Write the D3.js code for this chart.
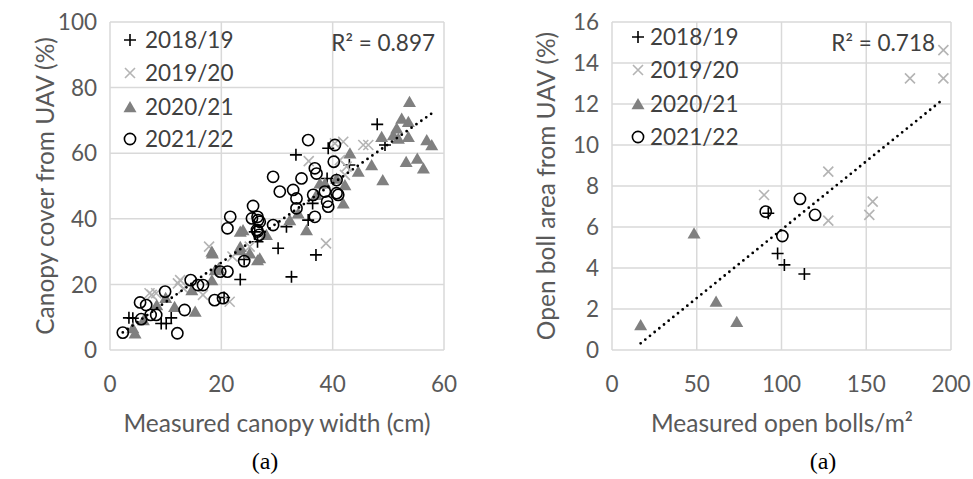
<!DOCTYPE html>
<html><head><meta charset="utf-8">
<script src="https://cdn.jsdelivr.net/npm/d3@7"></script>
<style>body{margin:0;background:#fff}svg{display:block}text{font-family:Lato,"Open Sans",sans-serif}</style>
</head><body>
<svg id="c" width="973" height="479"></svg>
<script>
// ---------- DATA ----------
const seasons = ["2018/19", "2019/20", "2020/21", "2021/22"];

// Panel 1: measured canopy width (cm) vs canopy cover from UAV (%)
const canopy1819 = [[3.4,9.8],[4.1,9.7],[9.2,8.1],[10.1,8.1],[11.0,9.8],[23.4,21.5],[24.1,27.6],[26.5,33.0],[26.0,36.0],[30.2,31.0],[32.6,22.3],[37.0,29.0],[31.7,37.6],[35.6,39.6],[36.4,44.7],[39.0,52.3],[33.4,59.5],[39.2,61.5],[43.0,56.4],[48.0,68.8],[49.4,62.5],[20.5,16.0]];
const canopy1920 = [[7.1,17.3],[8.3,17.3],[7.5,16.8],[12.2,20.3],[16.7,16.8],[12.6,21.3],[13.2,18.8],[17.8,31.5],[22.0,28.5],[25.1,31.5],[21.5,14.7],[38.8,32.5],[35.7,57.6],[41.9,63.5],[40.4,63.0],[45.5,62.5],[46.4,62.5],[42.2,53.4],[41.3,57.9],[42.5,55.9]];
const canopy2021 = [[4.1,6.7],[4.5,5.1],[6.0,9.1],[8.4,13.7],[10.0,15.9],[11.6,13.2],[15.3,11.7],[14.7,18.3],[18.3,21.3],[18.9,24.4],[19.5,24.9],[18.4,29.5],[18.3,30.0],[23.4,30.5],[23.4,31.5],[25.1,29.5],[23.4,36.1],[23.9,36.6],[26.5,27.4],[26.9,28.0],[28.1,35.1],[32.3,39.6],[33.8,41.7],[35.3,36.6],[37.1,47.3],[37.7,50.8],[38.6,50.8],[40.7,52.3],[41.9,44.7],[42.2,50.3],[43.1,60.0],[44.6,54.4],[47.0,56.4],[49.0,51.8],[48.8,65.0],[50.9,65.5],[51.5,67.6],[51.8,64.5],[52.4,70.6],[53.6,69.6],[53.6,65.0],[53.8,75.7],[53.2,57.4],[55.2,58.4],[56.3,55.4],[56.9,64.0],[57.8,62.5]];
const canopy2122 = [[2.3,5.3],[12.1,5.1],[5.4,14.5],[6.5,13.7],[5.6,9.4],[7.3,10.7],[8.3,10.7],[9.9,17.8],[13.4,12.2],[14.5,21.3],[15.8,19.8],[16.7,19.8],[18.8,15.2],[20.3,15.8],[19.8,23.9],[21.1,23.9],[24.1,27.1],[21.6,40.6],[21.1,37.1],[25.7,43.9],[25.5,40.1],[26.5,40.6],[26.9,39.1],[26.5,36.1],[26.8,35.1],[29.3,38.1],[35.6,64.0],[40.4,62.5],[40.2,57.4],[29.3,52.8],[34.4,52.3],[36.8,55.4],[37.1,53.8],[30.5,48.3],[32.9,48.8],[33.5,46.2],[38.6,48.3],[39.0,45.2],[39.2,43.7],[33.5,43.2],[26.6,39.6],[36.8,40.6],[26.4,36.6],[40.7,51.8],[40.7,47.8],[36.5,47.3],[41.0,47.3]];

// Panel 2: measured open bolls/m² vs open boll area from UAV (%)
const bolls1819 = [[92.2,6.67],[97.7,4.71],[101.7,4.15],[113.5,3.71]];
const bolls1920 = [[89.7,7.56],[127.6,6.31],[127.6,8.7],[151.8,6.59],[153.8,7.24],[175.8,13.25],[195.5,13.25],[195.5,14.63]];
const bolls2021 = [[16.9,1.22],[48.4,5.69],[61.4,2.36],[73.6,1.38]];
const bolls2122 = [[90.7,6.75],[100.5,5.56],[110.9,7.37],[119.8,6.59]];

const canopyXTicks = [0, 20, 40, 60];
const canopyYTicks = [0, 20, 40, 60, 80, 100];
const bollsXTicks = [0, 50, 100, 150, 200];
const bollsYTicks = [0, 2, 4, 6, 8, 10, 12, 14, 16];
const r2Labels = ["R² = 0.897", "R² = 0.718"];
const xTitles = ["Measured canopy width (cm)", "Measured open bolls/m²"];
const yTitles = ["Canopy cover from UAV (%)", "Open boll area from UAV (%)"];
const captions = ["(a)", "(a)"];

// ---------- DRAW ----------
const svg = d3.select("#c");
const markerPath = {
  "2018/19": "M-6,0H6M0,-6V6",
  "2019/20": "M-5,-5L5,5M-5,5L5,-5",
  "2020/21": "M0,-6L6.5,5.2L-6.5,5.2Z"
};
function marker(g, s) {
  if (s === "2021/22") {
    return g.append("circle").attr("r", 5.6).attr("fill", "none").attr("stroke", "#000").attr("stroke-width", 1.6);
  }
  const p = g.append("path").attr("d", markerPath[s]);
  if (s === "2018/19") p.attr("fill", "none").attr("stroke", "#000").attr("stroke-width", 1.6);
  if (s === "2019/20") p.attr("fill", "none").attr("stroke", "#b4b4b4").attr("stroke-width", 1.6);
  if (s === "2020/21") p.attr("fill", "#808080");
  return p;
}

function panel(cfg) {
  const x = d3.scaleLinear().domain(cfg.xDomain).range([cfg.left, cfg.right]);
  const y = d3.scaleLinear().domain(cfg.yDomain).range([cfg.bottom, cfg.top]);
  const g = svg.append("g");
  // grid
  g.selectAll(".gx").data(cfg.xTicks).join("line")
    .attr("x1", d => x(d)).attr("x2", d => x(d)).attr("y1", cfg.top).attr("y2", cfg.bottom)
    .attr("stroke", "#d9d9d9").attr("stroke-width", 1.5);
  g.selectAll(".gy").data(cfg.yTicks).join("line")
    .attr("y1", d => y(d)).attr("y2", d => y(d)).attr("x1", cfg.left).attr("x2", cfg.right)
    .attr("stroke", "#d9d9d9").attr("stroke-width", 1.5);
  // tick labels
  g.selectAll(".tx").data(cfg.xTicks).join("text")
    .attr("x", d => x(d)).attr("y", 392).attr("text-anchor", "middle")
    .attr("font-size", 22.5).attr("fill", "#595959").text(d => d);
  g.selectAll(".ty").data(cfg.yTicks).join("text")
    .attr("x", cfg.left - 13).attr("y", d => y(d)).attr("dy", "0.36em").attr("text-anchor", "end")
    .attr("font-size", 22.5).attr("fill", "#595959").text(d => d);
  // titles
  g.append("text").attr("x", cfg.xTitleX).attr("y", 432).attr("text-anchor", "middle")
    .attr("font-size", 24.5).attr("fill", "#595959").text(cfg.xTitle);
  g.append("text").attr("transform", `translate(${cfg.yTitleX},${(cfg.top + cfg.bottom) / 2}) rotate(-90)`)
    .attr("text-anchor", "middle").attr("font-size", 24.5).attr("fill", "#595959").text(cfg.yTitle);
  g.append("text").attr("x", cfg.captionX).attr("y", 469).attr("text-anchor", "middle")
    .style("font-family", "'Liberation Serif','Times New Roman',serif")
    .attr("font-size", 24).attr("fill", "#000").text(cfg.caption);
  // points
  cfg.series.forEach((data, i) => {
    const s = seasons[i];
    data.forEach(d => {
      const m = g.append("g").attr("transform", `translate(${x(d[0])},${y(d[1])})`);
      marker(m, s);
    });
  });
  // trendline (least squares over all points)
  const all = cfg.series.flat();
  const mx = d3.mean(all, d => d[0]), my = d3.mean(all, d => d[1]);
  const sxy = d3.sum(all, d => (d[0] - mx) * (d[1] - my));
  const sxx = d3.sum(all, d => (d[0] - mx) ** 2);
  const b = sxy / sxx, a = my - b * mx;
  const [x0, x1] = d3.extent(all, d => d[0]);
  g.append("line").attr("x1", x(x0)).attr("y1", y(a + b * x0)).attr("x2", x(x1)).attr("y2", y(a + b * x1))
    .attr("stroke", "#000").attr("stroke-width", 2.8).attr("stroke-linecap", "round").attr("stroke-dasharray", "0,6");
  // legend
  seasons.forEach((s, i) => {
    const cy = cfg.legendY[i];
    const m = g.append("g").attr("transform", `translate(${cfg.legendMX},${cy})`);
    marker(m, s);
    g.append("text").attr("x", cfg.legendTX).attr("y", cy).attr("dy", "0.36em")
      .attr("font-size", 22.5).attr("fill", "#404040").text(s);
  });
  g.append("text").attr("x", cfg.r2X).attr("y", 51).attr("text-anchor", "end")
    .attr("font-size", 22.5).attr("fill", "#404040").text(cfg.r2);
}

panel({
  left: 110, right: 444, top: 22, bottom: 350,
  xDomain: [0, 60], yDomain: [0, 100], xTicks: canopyXTicks, yTicks: canopyYTicks,
  series: [canopy1819, canopy1920, canopy2021, canopy2122],
  xTitle: xTitles[0], xTitleX: 277, yTitle: yTitles[0], yTitleX: 54, caption: captions[0], captionX: 265,
  legendMX: 130, legendTX: 145, legendY: [40, 73, 107, 139], r2: r2Labels[0], r2X: 435
});
panel({
  left: 612, right: 951, top: 22, bottom: 350,
  xDomain: [0, 200], yDomain: [0, 16], xTicks: bollsXTicks, yTicks: bollsYTicks,
  series: [bolls1819, bolls1920, bolls2021, bolls2122],
  xTitle: xTitles[1], xTitleX: 782, yTitle: yTitles[1], yTitleX: 555, caption: captions[1], captionX: 823,
  legendMX: 638, legendTX: 650, legendY: [37, 70, 104, 137], r2: r2Labels[1], r2X: 935
});
</script>
</body></html>
